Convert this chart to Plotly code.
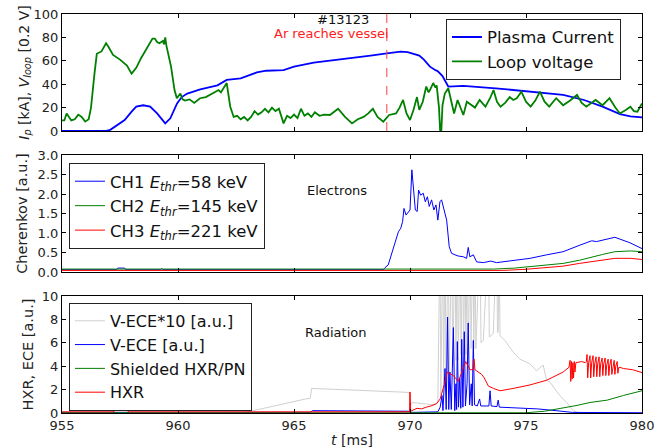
import plotly.graph_objects as go

# ---------------- Panel 1: plasma current & loop voltage ----------------
ip_t = [955, 956.9, 957.08, 957.37, 957.7, 958.0, 958.2, 958.5, 958.8, 959.1, 959.45, 959.67,
        959.96, 960.16, 960.4, 960.96, 961.7, 962.1, 962.7, 963.4, 963.8, 964.55, 965.0, 965.85,
        966.55, 967.5, 968.3, 969.0, 969.6, 969.9, 970.2, 970.4, 970.6, 970.86, 971.1, 971.2,
        971.3, 971.4, 971.65, 972.3, 973.7, 975.2, 976.6, 977.5, 978.3, 979.05, 979.5, 980]
ip_v = [0, 0, 1, 5, 9.4, 16.5, 20.8, 22, 20.8, 15, 6.5, 10.8,
        23.6, 29, 32, 35.6, 39, 43.6, 45, 50, 51.5, 52, 55, 58.4,
        60, 62.5, 64.5, 66.4, 67.8, 67.5, 66, 64.5, 61, 55, 52, 51,
        49, 47, 38, 38.5, 36.5, 33.6, 30.8, 26.5, 20.8, 14.5, 12.5, 11.7]

vl_t = [955.0, 955.1, 955.2, 955.4, 955.55, 955.7, 955.85, 956.0, 956.15, 956.25, 956.4, 956.5,
        956.7, 956.9, 957.0, 957.2, 957.5, 957.8, 958.0, 958.2, 958.4, 958.7, 958.9, 959.0,
        959.1, 959.2, 959.35, 959.4, 959.45, 959.5, 959.7, 959.85, 959.95, 960.1, 960.2, 960.3,
        960.5, 960.7, 960.95, 961.2, 961.4, 961.6, 961.75, 961.85, 961.95, 962.1, 962.25, 962.4,
        962.55, 962.7, 962.85, 963.0, 963.15, 963.3, 963.45, 963.6, 963.75, 963.9, 964.05, 964.2,
        964.35, 964.45, 964.55, 964.7, 964.85, 965.0, 965.15, 965.3, 965.45, 965.6, 965.75, 965.9,
        966.1, 966.3, 966.55, 966.9, 967.2, 967.5, 967.75, 968.0, 968.2, 968.4, 968.6, 968.85,
        969.1, 969.4, 969.55, 969.7, 969.85, 970.0, 970.15, 970.3, 970.4, 970.55, 970.7, 970.8,
        970.86, 971.0, 971.1, 971.15, 971.25, 971.3, 971.35, 971.4, 971.5, 971.65, 971.75, 971.9,
        972.05, 972.2, 972.3, 972.45, 972.65, 972.8, 973.0, 973.25, 973.45, 973.6, 973.75, 973.9,
        974.1, 974.3, 974.45, 974.6, 974.8, 975.0, 975.2, 975.4, 975.6, 975.8, 976.0, 976.3,
        976.6, 976.9, 977.2, 977.4, 977.6, 977.8, 978.0, 978.3, 978.6, 978.85, 979.05, 979.3,
        979.5, 979.65, 979.8, 980.0]
vl_v = [9, 9, 15, 9, 10, 14, 12, 8, 10, 20, 49, 66,
        68, 75, 72, 65, 61, 56, 49, 54, 62, 72, 79, 79,
        76, 75, 77, 74, 80, 73, 55, 35, 28, 32, 27, 26,
        27, 24, 28, 29, 31, 33, 35, 33, 36, 41, 21, 12,
        13, 10, 12, 9, 12, 17, 14, 16, 19, 16, 20, 17,
        19, 12, 6.5, 13, 11, 14, 11, 19, 13, 15, 12, 16,
        13, 14, 13.7, 19, 12, 6.5, 10, 12, 15, 19, 12, 8,
        13.7, 15, 20, 26.5, 15, 9.4, 18, 29, 18, 25, 38, 33,
        35, 41, 37, 39, 20, 0, 0, 22, 32, 36.5, 28, 15,
        26.5, 18, 13.7, 25, 22, 20, 26.5, 20.8, 28, 35, 25, 20.8,
        24, 29, 26.5, 28, 33.6, 25, 20.8, 26, 33.6, 25, 20.8, 28,
        22, 26, 30.8, 24, 20.8, 24, 26.5, 22, 28, 20, 15, 18,
        20.8, 17, 16.5, 23.6]

# ---------------- Panel 2: Cherenkov ----------------
ch1_t = [955, 957.35, 957.4, 957.7, 957.75, 959.25, 959.3, 959.35, 968.85,
         968.92, 969.06, 969.21, 969.35, 969.5, 969.6, 969.68, 969.74, 969.83, 969.93, 970.0,
         970.08, 970.14, 970.23, 970.31, 970.37, 970.46, 970.57, 970.66, 970.75, 970.83, 970.93,
         971.03, 971.12, 971.2, 971.29, 971.36, 971.46, 971.58, 971.69, 971.79, 971.94, 972.08,
         972.3, 972.44, 972.51, 972.58, 972.73, 972.87, 973.16, 973.48, 973.73, 974.45, 975.17,
         975.89, 976.6, 977.33, 977.83, 978.04, 978.83, 979.48, 980.0]
ch1_v = [0.06, 0.06, 0.1, 0.1, 0.06, 0.06, 0.09, 0.06, 0.06,
         0.11, 0.18, 0.44, 0.74, 1.03, 1.12, 1.29, 1.63, 1.46, 1.55, 1.59,
         2.62, 2.1, 1.59, 1.55, 2.1, 1.97, 2.02, 1.8, 1.93, 1.68, 1.85,
         1.59, 1.72, 1.33, 1.8, 1.85, 1.59, 1.33, 0.65, 0.48, 0.44, 0.41,
         0.39, 0.35, 0.63, 0.39, 0.44, 0.26, 0.24, 0.28, 0.24, 0.29, 0.35,
         0.44, 0.52, 0.69, 0.8, 0.78, 0.89, 0.75, 0.6]

ch2_t = [955, 973.6, 974.5, 975.5, 976.6, 977.3, 977.83, 978.3, 978.83, 979.5, 980.0]
ch2_v = [0.075, 0.075, 0.1, 0.15, 0.22, 0.3, 0.39, 0.45, 0.52, 0.54, 0.52]

ch3_t = [955, 974.0, 975.0, 976.0, 976.6, 977.3, 977.83, 978.3, 978.83, 979.5, 980.0]
ch3_v = [0.04, 0.04, 0.07, 0.12, 0.15, 0.22, 0.27, 0.31, 0.35, 0.35, 0.32]

# ---------------- Panel 3: Radiation ----------------
ece10_t = [955, 962.9, 965.5, 965.7, 965.76, 966.5, 967.5, 968.5, 969.5, 969.98, 970.0, 970.1,
           970.5, 971.0, 971.2, 971.29, 971.33, 971.41, 971.45, 971.51, 971.55, 971.65, 971.69,
           971.8, 971.84, 971.94, 971.98, 972.04, 972.08, 972.16, 972.2, 972.27, 972.31, 972.37,
           972.41, 972.47, 972.51, 972.59, 972.63, 972.71, 972.75, 972.8, 972.84, 973.02, 973.06,
           973.16, 973.38, 973.42, 973.59, 973.74, 973.77, 973.8, 973.84, 973.88, 974.09, 974.45,
           974.74, 975.17, 975.45, 975.74, 975.89, 976.05, 976.3, 976.5, 976.75, 977.04, 977.3, 980]
ece10_v = [0, 0.05, 1.2, 1.25, 2.1, 2.05, 1.95, 1.9, 1.8, 1.75, 0.6, 0.9,
           0.8, 0.7, 0.9, 15, 1.5, 15, 2.5, 15, 3, 15, 3.5,
           15, 4, 15, 4.5, 15, 4.5, 15, 5, 15, 5, 15,
           5, 15, 5, 15, 5.5, 15, 5.5, 15, 5.5, 15, 6,
           6.2, 15, 6.5, 6.8, 15, 6.9, 6.9, 15, 6.6, 6.2, 5.2,
           4.6, 4.2, 3.6, 4.1, 2.8, 2.6, 1.9, 1.4, 0.9, 0.2, 0, 0]

ece_t = [955, 965.7, 965.8, 969.98, 970.0, 971.2, 971.3, 971.38, 971.42, 971.51, 971.56, 971.62,
         971.67, 971.72, 971.78, 971.87, 971.93, 971.98, 972.01, 972.04, 972.09, 972.14, 972.19,
         972.23, 972.28, 972.34, 972.39, 972.46, 972.51, 972.57, 972.64, 972.68, 972.73, 972.78,
         972.9, 973.0, 973.05, 973.4, 973.45, 973.5, 973.75, 973.8, 973.85, 974.5, 975.5, 976.3,
         977.0, 980]
ece_v = [0.05, 0.05, 0.2, 0.15, 0.05, 0.1, 0.5, 1.5, 0.2, 3.8, 0.3, 8.2,
         0.3, 3.5, 0.3, 7.3, 0.2, 2.5, 0.3, 6.1, 0.5, 3.0, 0.4,
         6.3, 0.5, 6.95, 0.6, 2.5, 7.7, 0.7, 2.5, 0.6, 6.2, 0.7,
         0.6, 1.2, 0.6, 0.6, 1.9, 0.6, 0.55, 1.1, 0.5, 0.45, 0.35, 0.2,
         0.05, 0.02]

shx_t = [955, 975.0, 975.8, 976.6, 977.2, 977.76, 978.5, 979.2, 980.0]
shx_v = [0.02, 0.02, 0.15, 0.4, 0.65, 0.9, 1.1, 1.5, 1.9]

hxr_t = [955, 957.2, 957.3, 957.8, 957.9, 969.98, 970.0, 970.03, 970.3, 970.5, 970.7, 970.9,
         971.15, 971.3, 971.5, 971.6, 971.87, 972.08, 972.2, 972.4, 972.59, 972.72, 972.76, 972.8,
         972.87, 973.09, 973.2, 973.38, 973.6, 973.88, 974.45, 975.17, 975.89, 976.6, 976.85,
         976.9, 976.93, 976.96, 976.99, 977.02, 977.05, 977.08, 977.11, 977.15, 977.4, 977.55,
         977.6, 977.63, 977.66, 977.7, 977.76, 977.79, 977.83, 977.89, 977.92, 977.96, 978.02,
         978.05, 978.09, 978.15, 978.18, 978.22, 978.28, 978.31, 978.35, 978.41, 978.44, 978.48,
         978.54, 978.57, 978.61, 978.67, 978.7, 978.74, 978.8, 978.83, 978.87, 978.93, 978.96,
         979.0, 979.05, 979.2, 979.6, 980]
hxr_v = [0.1, 0.1, 0.2, 0.2, 0.1, 0.1, 1.8, 0.15, 0.4, 0.35, 0.5, 0.6,
         0.8, 1.2, 2.6, 3.5, 3.2, 2.7, 3.3, 4.4, 3.7, 3.7, 4.6, 3.7,
         3.6, 3.3, 3.0, 2.3, 2.1, 1.9, 2.1, 2.4, 2.8, 3.5, 3.9,
         4.5, 2.7, 4.4, 2.9, 4.3, 3.0, 4.4, 3.5, 4.3, 4.4, 4.3,
         4.4, 5.0, 3.0, 4.3, 4.9, 3.0, 4.3, 4.9, 3.1, 4.2, 4.8,
         3.1, 4.2, 4.8, 3.1, 4.2, 4.7, 3.2, 4.2, 4.7, 3.2, 4.1,
         4.6, 3.2, 4.1, 4.6, 3.3, 4.0, 4.5, 3.3, 4.0, 4.4, 3.4,
         3.9, 3.9, 3.8, 3.7, 3.45]

FONT = "DejaVu Sans"
BLUE, GREEN, RED, GRAY = "#0000ff", "#008000", "#ff0000", "#d0d0d0"

fig = go.Figure()
fig.add_trace(go.Scatter(x=ip_t, y=ip_v, mode="lines", name="Plasma Current",
                         line=dict(color=BLUE, width=1.8), xaxis="x", yaxis="y", legend="legend"))
fig.add_trace(go.Scatter(x=vl_t, y=vl_v, mode="lines", name="Loop voltage",
                         line=dict(color=GREEN, width=1.8), xaxis="x", yaxis="y", legend="legend"))

fig.add_trace(go.Scatter(x=ch1_t, y=ch1_v, mode="lines", name="CH1 <i>E<sub>thr</sub></i>=58 keV",
                         line=dict(color=BLUE, width=1), xaxis="x2", yaxis="y2", legend="legend2"))
fig.add_trace(go.Scatter(x=ch2_t, y=ch2_v, mode="lines", name="CH2 <i>E<sub>thr</sub></i>=145 keV",
                         line=dict(color=GREEN, width=1), xaxis="x2", yaxis="y2", legend="legend2"))
fig.add_trace(go.Scatter(x=ch3_t, y=ch3_v, mode="lines", name="CH3 <i>E<sub>thr</sub></i>=221 keV",
                         line=dict(color=RED, width=1), xaxis="x2", yaxis="y2", legend="legend2"))

fig.add_trace(go.Scatter(x=ece10_t, y=ece10_v, mode="lines", name="V-ECE*10 [a.u.]",
                         line=dict(color=GRAY, width=1), xaxis="x3", yaxis="y3", legend="legend3"))
fig.add_trace(go.Scatter(x=ece_t, y=ece_v, mode="lines", name="V-ECE [a.u.]",
                         line=dict(color=BLUE, width=1), xaxis="x3", yaxis="y3", legend="legend3"))
fig.add_trace(go.Scatter(x=shx_t, y=shx_v, mode="lines", name="Shielded HXR/PN",
                         line=dict(color=GREEN, width=1), xaxis="x3", yaxis="y3", legend="legend3"))
fig.add_trace(go.Scatter(x=hxr_t, y=hxr_v, mode="lines", name="HXR",
                         line=dict(color=RED, width=1), xaxis="x3", yaxis="y3", legend="legend3"))

axis_common = dict(showline=True, linecolor="black", linewidth=1.2, mirror="allticks",
                   ticks="inside", ticklen=4, tickcolor="black", showgrid=False, zeroline=False,
                   automargin=False,
                   tickfont=dict(family=FONT, size=13, color="#222"))
xcommon = dict(axis_common, range=[955, 980], tick0=955, dtick=5)

legend_common = dict(bgcolor="white", bordercolor="#222", borderwidth=1,
                     xanchor="left", yanchor="top", font=dict(family=FONT, size=16.5, color="#111"))

fig.update_layout(
    width=659, height=448,
    margin=dict(l=62, r=17, t=14, b=35),
    paper_bgcolor="white", plot_bgcolor="white",
    font=dict(family=FONT, size=13, color="#222"),
    xaxis=dict(xcommon, domain=[0, 1], anchor="y", showticklabels=False),
    yaxis=dict(axis_common, domain=[0.7068, 1], anchor="x", range=[0, 100], dtick=20,
               title=dict(text="<i>I<sub>p</sub></i> [kA], <i>V<sub>loop</sub></i> [0.2 V]",
                          font=dict(size=14), standoff=0)),
    xaxis2=dict(xcommon, domain=[0, 1], anchor="y2", showticklabels=False, matches="x"),
    yaxis2=dict(axis_common, domain=[0.3534, 0.6466], anchor="x2", range=[0, 3], dtick=0.5,
                tickformat=".1f",
                title=dict(text="Cherenkov [a.u.]", font=dict(size=14.5), standoff=6)),
    xaxis3=dict(xcommon, domain=[0, 1], anchor="y3", showticklabels=True, matches="x",
                title=dict(text="<i>t</i> [ms]", font=dict(size=14), standoff=4)),
    yaxis3=dict(axis_common, domain=[0, 0.2932], anchor="x3", range=[0, 10], dtick=2,
                title=dict(text="HXR, ECE [a.u.]", font=dict(size=14.5), standoff=4)),
    legend=dict(legend_common, x=0.662, y=0.988),
    legend2=dict(legend_common, x=0.012, y=0.6266),
    legend3=dict(legend_common, x=0.012, y=0.276, font=dict(family=FONT, size=16, color="#111")),
    showlegend=True,
)

# vertical dashed line: Ar reaches vessel
fig.add_shape(type="line", xref="x", yref="y domain", x0=969.0, x1=969.0, y0=0, y1=1,
              line=dict(color="#ff4040", width=1, dash="dash"))

fig.add_annotation(x=967.1, y=95.5, xref="x", yref="y", text="#13123", showarrow=False,
                   font=dict(family=FONT, size=13, color="#111"))
fig.add_annotation(x=966.6, y=83.5, xref="x", yref="y", text="Ar reaches vessel", showarrow=False,
                   font=dict(family=FONT, size=13, color="#ff2020"))
fig.add_annotation(x=966.85, y=2.1, xref="x2", yref="y2", text="Electrons", showarrow=False,
                   font=dict(family=FONT, size=13, color="#111"))
fig.add_annotation(x=966.77, y=6.84, xref="x3", yref="y3", text="Radiation", showarrow=False,
                   font=dict(family=FONT, size=13, color="#111"))

# remove the default page margin so the figure sits at the window's top-left corner
fig.write_html("out.html", config={"displayModeBar": False},
               post_script="document.body.style.margin='0';document.body.style.overflow='hidden';")
